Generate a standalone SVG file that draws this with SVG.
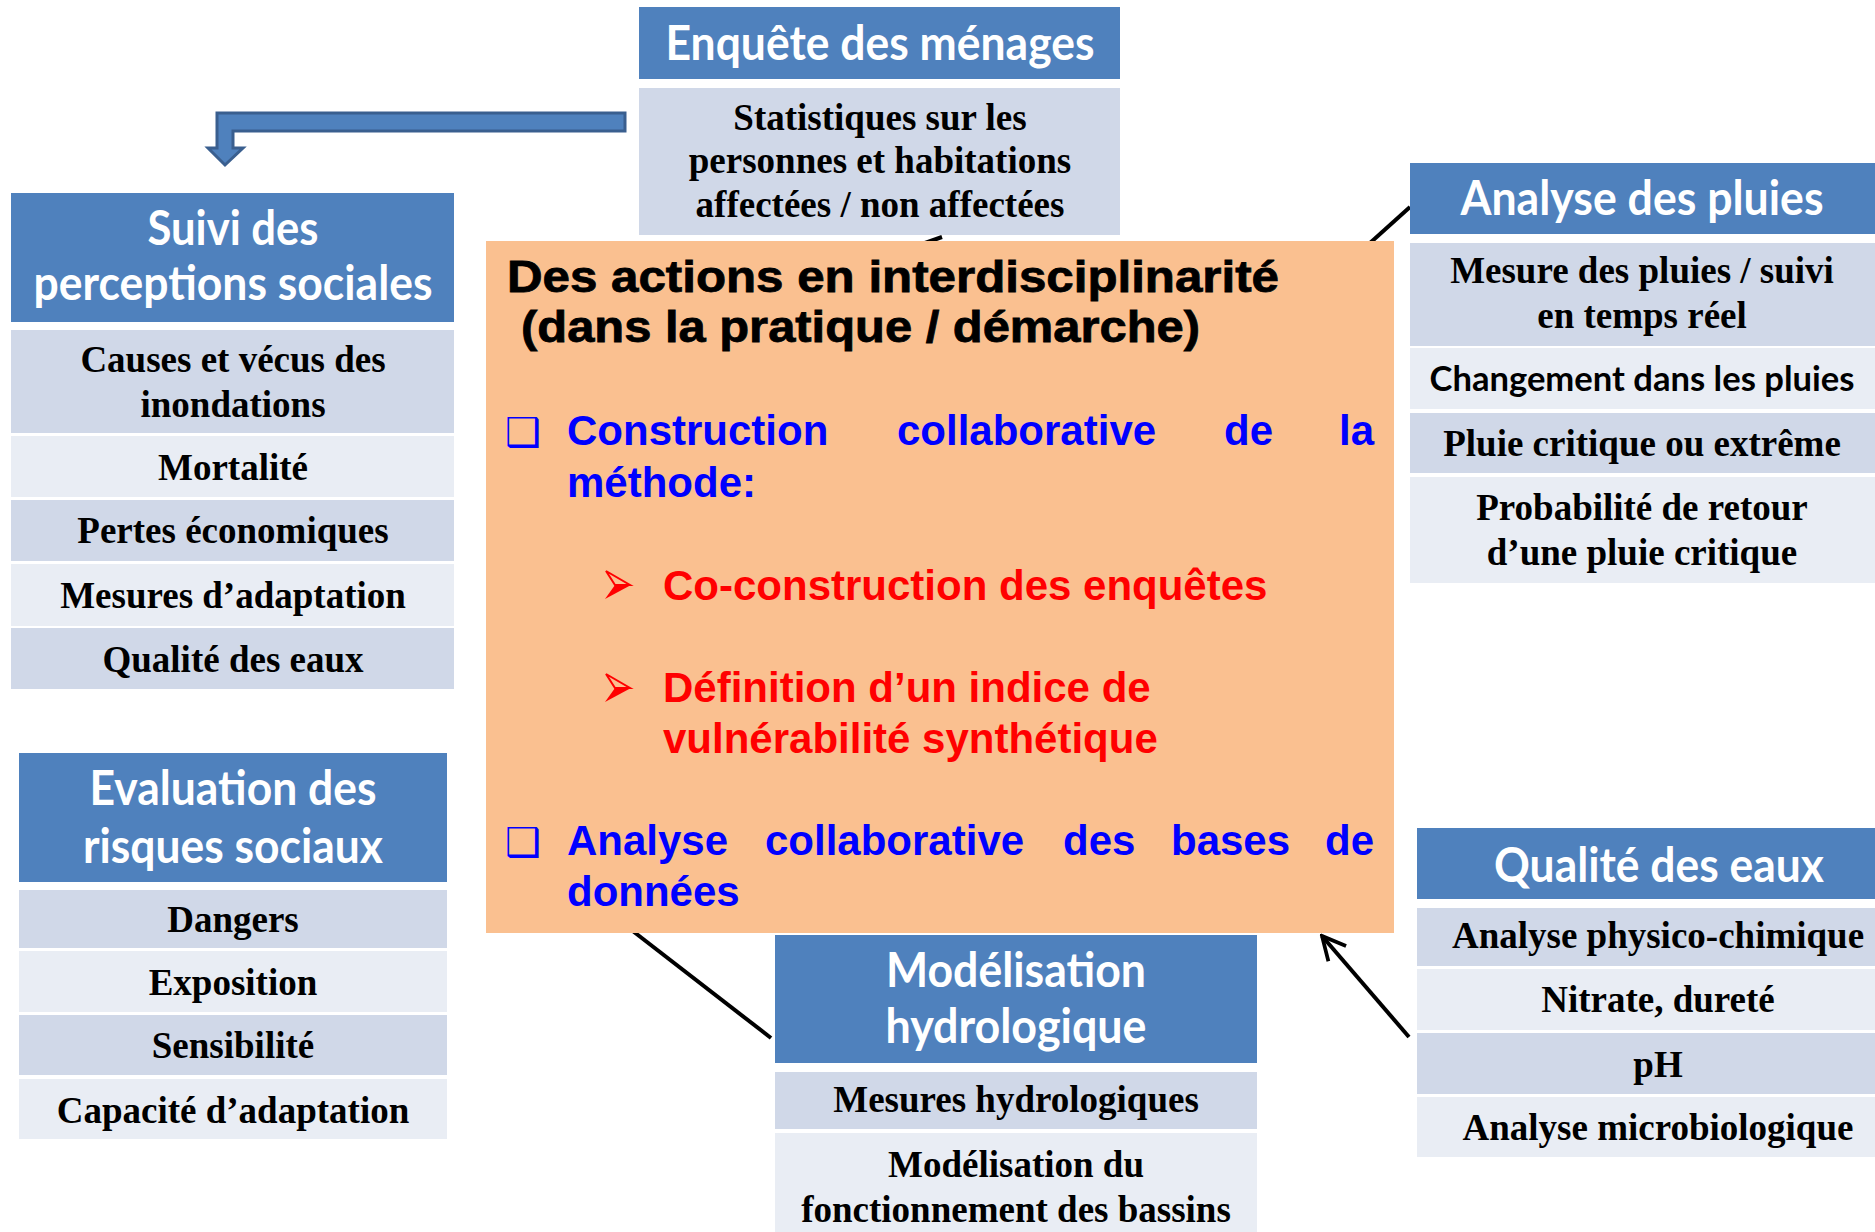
<svg xmlns="http://www.w3.org/2000/svg" width="1875" height="1232" viewBox="0 0 1875 1232">
<defs>
<style>
.hdr{fill:#4F81BD}
.r1{fill:#D0D8E8}
.r2{fill:#E9EDF4}
.ht{font-family:Lato,"Liberation Sans",sans-serif;font-weight:bold;fill:#FFFFFF;text-anchor:middle;font-size:47px}
.bt{font-family:"Liberation Serif","Times New Roman",serif;font-weight:bold;font-size:37px;fill:#000000;text-anchor:middle}
.st{font-family:Lato,"Liberation Sans",sans-serif;font-weight:bold;font-size:35px;fill:#000000;text-anchor:middle}
.ot{font-family:"Liberation Sans",Arial,sans-serif;font-weight:bold}
.blk{fill:#000000;font-size:44px;stroke:#000000;stroke-width:0.8}
.blu{fill:#0000FF;font-size:42px}
.red{fill:#FF0000;font-size:42px}
.sym{font-family:"DejaVu Sans",sans-serif;font-weight:bold}
.con{stroke:#000000;stroke-width:4;fill:none}
.ab{fill:none;stroke:#FF0000;stroke-width:2;stroke-linejoin:miter}
.af{fill:#FF0000}
</style>
<marker id="open" viewBox="0 0 12 12" refX="11" refY="6" markerWidth="7" markerHeight="7" orient="auto" markerUnits="strokeWidth">
<path d="M1,1 L11,6 L1,11" fill="none" stroke="#000000" stroke-width="1.6"/>
</marker>
</defs>
<rect width="1875" height="1232" fill="#FFFFFF"/>

<g id="connectors">
<path d="M625,113 L217,113 L217,148 L208,148 L225,165 L243,148 L233,148 L233,131 L625,131 Z" fill="#4F81BD" stroke="#3A5F8F" stroke-width="3"/>
<line class="con" x1="925" y1="243" x2="942" y2="237" stroke-width="3"/>
<line class="con" x1="1410" y1="207" x2="1360" y2="252"/>
<line class="con" x1="771" y1="1038" x2="625" y2="925"/>
<line class="con" x1="1409" y1="1037" x2="1322" y2="936" marker-end="url(#open)"/>
</g>

<g id="enquete">
<rect class="hdr" x="639" y="7" width="481" height="72"/>
<text class="ht" x="880" y="60" textLength="429" lengthAdjust="spacingAndGlyphs">Enquête des ménages</text>
<rect class="r1" x="639" y="88" width="481" height="147"/>
<text class="bt" x="880" y="130">Statistiques sur les</text>
<text class="bt" x="880" y="173">personnes et habitations</text>
<text class="bt" x="880" y="217">affectées / non affectées</text>
</g>

<g id="suivi">
<rect class="hdr" x="11" y="193" width="443" height="129"/>
<text class="ht" x="233" y="245" textLength="171" lengthAdjust="spacingAndGlyphs">Suivi des</text>
<text class="ht" x="233" y="300" textLength="399" lengthAdjust="spacingAndGlyphs">perceptions sociales</text>
<rect class="r1" x="11" y="330" width="443" height="103"/>
<text class="bt" x="233" y="372">Causes et vécus des</text>
<text class="bt" x="233" y="417">inondations</text>
<rect class="r2" x="11" y="436" width="443" height="61"/>
<text class="bt" x="233" y="480">Mortalité</text>
<rect class="r1" x="11" y="500" width="443" height="61"/>
<text class="bt" x="233" y="543">Pertes économiques</text>
<rect class="r2" x="11" y="564" width="443" height="62"/>
<text class="bt" x="233" y="608">Mesures d’adaptation</text>
<rect class="r1" x="11" y="628" width="443" height="61"/>
<text class="bt" x="233" y="672">Qualité des eaux</text>
</g>

<g id="evaluation">
<rect class="hdr" x="19" y="753" width="428" height="129"/>
<text class="ht" x="233" y="805" textLength="287" lengthAdjust="spacingAndGlyphs">Evaluation des</text>
<text class="ht" x="233" y="863" textLength="300" lengthAdjust="spacingAndGlyphs">risques sociaux</text>
<rect class="r1" x="19" y="890" width="428" height="58"/>
<text class="bt" x="233" y="932">Dangers</text>
<rect class="r2" x="19" y="951" width="428" height="61"/>
<text class="bt" x="233" y="995">Exposition</text>
<rect class="r1" x="19" y="1015" width="428" height="60"/>
<text class="bt" x="233" y="1058">Sensibilité</text>
<rect class="r2" x="19" y="1079" width="428" height="60"/>
<text class="bt" x="233" y="1123">Capacité d’adaptation</text>
</g>

<g id="pluies">
<rect class="hdr" x="1410" y="163" width="465" height="71"/>
<text class="ht" x="1642" y="215" textLength="363" lengthAdjust="spacingAndGlyphs">Analyse des pluies</text>
<rect class="r1" x="1410" y="243" width="465" height="103"/>
<text class="bt" x="1642" y="283">Mesure des pluies / suivi</text>
<text class="bt" x="1642" y="328">en temps réel</text>
<rect class="r2" x="1410" y="348" width="465" height="61"/>
<text class="st" x="1642" y="391" textLength="425" lengthAdjust="spacingAndGlyphs">Changement dans les pluies</text>
<rect class="r1" x="1410" y="413" width="465" height="60"/>
<text class="bt" x="1642" y="456">Pluie critique ou extrême</text>
<rect class="r2" x="1410" y="477" width="465" height="106"/>
<text class="bt" x="1642" y="520">Probabilité de retour</text>
<text class="bt" x="1642" y="565">d’une pluie critique</text>
</g>

<g id="qualite">
<rect class="hdr" x="1417" y="828" width="482" height="71"/>
<text class="ht" x="1659" y="882" textLength="330" lengthAdjust="spacingAndGlyphs">Qualité des eaux</text>
<rect class="r1" x="1417" y="908" width="482" height="58"/>
<text class="bt" x="1658" y="948">Analyse physico-chimique</text>
<rect class="r2" x="1417" y="969" width="482" height="61"/>
<text class="bt" x="1658" y="1012">Nitrate, dureté</text>
<rect class="r1" x="1417" y="1033" width="482" height="61"/>
<text class="bt" x="1658" y="1077">pH</text>
<rect class="r2" x="1417" y="1097" width="482" height="60"/>
<text class="bt" x="1658" y="1140">Analyse microbiologique</text>
</g>

<g id="modelisation">
<rect class="hdr" x="775" y="935" width="482" height="128"/>
<text class="ht" x="1016" y="987" textLength="260" lengthAdjust="spacingAndGlyphs">Modélisation</text>
<text class="ht" x="1016" y="1043" textLength="261" lengthAdjust="spacingAndGlyphs">hydrologique</text>
<rect class="r1" x="775" y="1072" width="482" height="57"/>
<text class="bt" x="1016" y="1112">Mesures hydrologiques</text>
<rect class="r2" x="775" y="1133" width="482" height="110"/>
<text class="bt" x="1016" y="1177">Modélisation du</text>
<text class="bt" x="1016" y="1222">fonctionnement des bassins</text>
</g>

<g id="actions">
<rect x="486" y="241" width="908" height="692" fill="#FAC090"/>
<text class="ot blk" x="507" y="292" textLength="772" lengthAdjust="spacingAndGlyphs">Des actions en interdisciplinarité</text>
<text class="ot blk" x="521" y="342" textLength="679" lengthAdjust="spacingAndGlyphs">(dans la pratique / démarche)</text>
<text class="sym" x="505" y="446" font-size="40" fill="#0000FF">❑</text>
<text class="ot blu" x="567" y="445">Construction</text>
<text class="ot blu" x="897" y="445">collaborative</text>
<text class="ot blu" x="1224" y="445">de</text>
<text class="ot blu" x="1339" y="445">la</text>
<text class="ot blu" x="567" y="497">méthode:</text>
<polygon class="ab" points="606,571 630,585 615,585"/>
<polygon class="af" points="615,585 631,585 605,599"/>
<text class="ot red" x="663" y="600">Co-construction des enquêtes</text>
<polygon class="ab" points="606,674 630,688 615,688"/>
<polygon class="af" points="615,688 631,688 605,702"/>
<text class="ot red" x="663" y="702">Définition d’un indice de</text>
<text class="ot red" x="663" y="753">vulnérabilité synthétique</text>
<text class="sym" x="505" y="856" font-size="40" fill="#0000FF">❑</text>
<text class="ot blu" x="567" y="855">Analyse</text>
<text class="ot blu" x="765" y="855">collaborative</text>
<text class="ot blu" x="1063" y="855">des</text>
<text class="ot blu" x="1171" y="855">bases</text>
<text class="ot blu" x="1325" y="855">de</text>
<text class="ot blu" x="567" y="906">données</text>
</g>
</svg>
